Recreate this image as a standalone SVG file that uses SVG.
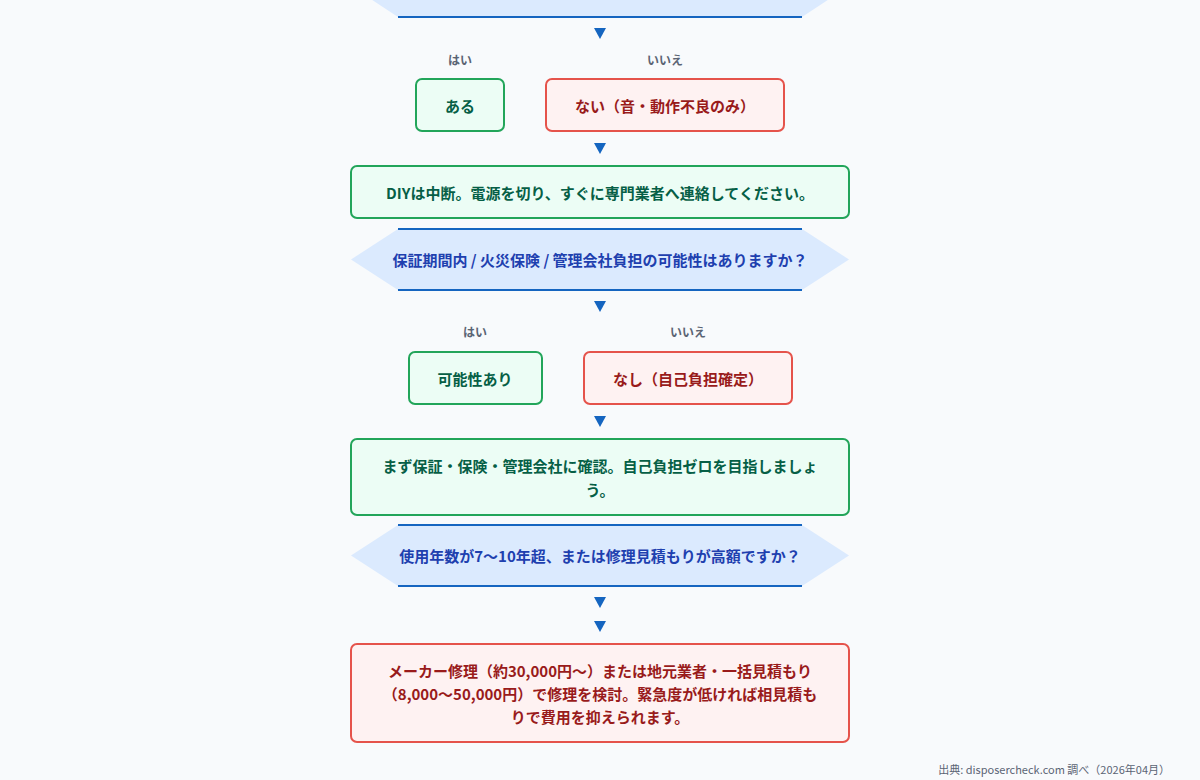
<svg xmlns="http://www.w3.org/2000/svg" width="1200" height="780" viewBox="0 0 1200 780">
<style>
text{font-family:"Noto Sans CJK JP","Noto Sans",sans-serif;font-weight:700;text-anchor:middle;dominant-baseline:central}
.hex{fill:#dbeafe}
.hl{stroke:#1565c0;stroke-width:2;fill:none}
.ht{fill:#1e40af;font-size:15px}
.g{fill:#ecfdf5;stroke:#22a55a;stroke-width:2}
.gt{fill:#065f46;font-size:15px}
.r{fill:#fef2f2;stroke:#e5534b;stroke-width:2}
.rt{fill:#991b1b;font-size:15px}
.lab{fill:#5b6474;font-size:12px}
.arr{fill:#1565c0}
</style>
<rect width="1200" height="780" fill="#f8fafc"/>
<g id="q1"><polygon class="hex" points="351,-14 398,-45 802,-45 849,-14 802,17 398,17"/><line class="hl" x1="398" y1="17" x2="802" y2="17"/></g>
<g id="connectors">
<polygon class="arr" points="594,28 606,28 600,39"/>
<polygon class="arr" points="594,143 606,143 600,154"/>
<polygon class="arr" points="594,301 606,301 600,312"/>
<polygon class="arr" points="594,416 606,416 600,427"/>
<polygon class="arr" points="594,597 606,597 600,608"/>
<polygon class="arr" points="594,621 606,621 600,632"/>
</g>
<text class="lab" x="460" y="59">はい</text>
<text class="lab" x="665" y="59">いいえ</text>
<g id="a1"><rect class="g" x="416" y="79" width="88" height="52" rx="6"/><text class="gt" x="460" y="105">ある</text></g>
<g id="b1"><rect class="r" x="546" y="79" width="238" height="52" rx="6"/><text class="rt" x="665" y="105">ない（音・動作不良のみ）</text></g>
<g id="s1"><rect class="g" x="351" y="166" width="498" height="52" rx="6"/><text class="gt" x="600" y="192">DIYは中断。電源を切り、すぐに専門業者へ連絡してください。</text></g>
<g id="q2"><polygon class="hex" points="351,259.5 398,229 802,229 849,259.5 802,290 398,290"/><line class="hl" x1="398" y1="229" x2="802" y2="229"/><line class="hl" x1="398" y1="290" x2="802" y2="290"/><text class="ht" x="600" y="259">保証期間内 / 火災保険 / 管理会社負担の可能性はありますか？</text></g>
<text class="lab" x="475" y="331">はい</text>
<text class="lab" x="688" y="331">いいえ</text>
<g id="a2"><rect class="g" x="409" y="352" width="133" height="52" rx="6"/><text class="gt" x="475" y="378">可能性あり</text></g>
<g id="b2"><rect class="r" x="584" y="352" width="208" height="52" rx="6"/><text class="rt" x="688" y="378">なし（自己負担確定）</text></g>
<g id="s2"><rect class="g" x="351" y="439" width="498" height="76" rx="6"/><text class="gt" x="600" y="465">まず保証・保険・管理会社に確認。自己負担ゼロを目指しましょ</text><text class="gt" x="600" y="489">う。</text></g>
<g id="q3"><polygon class="hex" points="351,555.5 398,525 802,525 849,555.5 802,586 398,586"/><line class="hl" x1="398" y1="525" x2="802" y2="525"/><line class="hl" x1="398" y1="586" x2="802" y2="586"/><text class="ht" x="600" y="555">使用年数が7〜10年超、または修理見積もりが高額ですか？</text></g>
<g id="s3"><rect class="r" x="351" y="644" width="498" height="98" rx="6"/><text class="rt" x="600" y="670">メーカー修理（約30,000円〜）または地元業者・一括見積もり</text><text class="rt" x="600" y="693">（8,000〜50,000円）で修理を検討。緊急度が低ければ相見積も</text><text class="rt" x="600" y="716">りで費用を抑えられます。</text></g>
<text x="1170" y="769" style="font-weight:400;font-size:11px;fill:#5b6474;text-anchor:end">出典: disposercheck.com 調べ（2026年04月）</text>
</svg>
